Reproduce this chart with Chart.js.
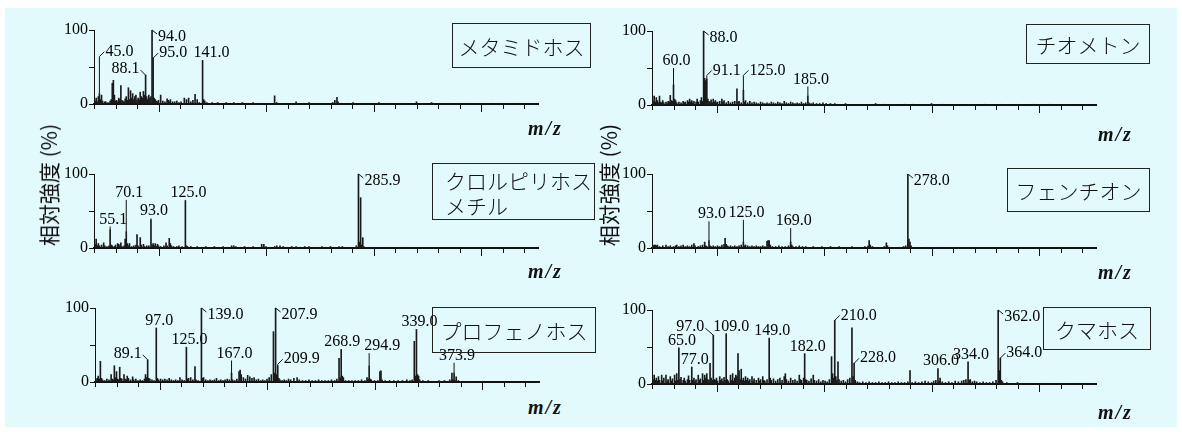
<!DOCTYPE html>
<html lang="ja">
<head>
<meta charset="UTF-8">
<title>マススペクトル</title>
<script src="https://cdn.jsdelivr.net/npm/chart.js"></script>
<style>
  body { margin: 0; background: #fff; }
  #wrap { position: relative; width: 1182px; height: 432px; overflow: hidden; }
  #bg { position: absolute; left: 5px; top: 8px; width: 1172px; height: 419px; background: #e2fafc; }
  canvas { position: absolute; }
  .box { position: absolute; box-sizing: border-box; border: 1.5px solid #222; font-family: "Noto Sans CJK JP"; font-size: 21px; font-weight: 300; color: #111; display: flex; align-items: center; justify-content: center; white-space: nowrap; }
  .box.multi { display: block; padding: 4px 0 0 12px; line-height: 25px; }
  .mz { position: absolute; font-family: "Liberation Serif"; font-style: italic; font-weight: bold; font-size: 20px; letter-spacing: 2px; color: #111; }
  .ytitle { position: absolute; transform: translate(-50%, -50%) rotate(-90deg); font-family: "Noto Sans CJK JP"; font-size: 21px; white-space: nowrap; color: #111; }
</style>
</head>
<body>
<div id="wrap">
  <div id="bg"></div>
</div>
<script>
// [m/z, relative intensity %]
const metamidophos = [[41,4],[42,8],[43,3],[44,10],[45,14],[46,6],[47,12],[48,4],[50,3],[51,3],[53,2],[55,4],[56,6],[57,28],[58,32],[59,12],[60,4],[61,5],[62,3],[63,8],[64,6],[65,25],[66,5],[67,4],[68,3],[69,7],[70,10],[71,5],[72,22],[73,6],[74,18],[75,8],[76,14],[77,6],[78,10],[79,12],[80,5],[81,8],[82,6],[83,16],[84,10],[85,8],[86,17],[87,12],[88,39],[89,10],[90,6],[91,12],[92,8],[93,10],[94,100],[95,62],[96,8],[97,6],[98,4],[99,3],[100,5],[102,12],[104,4],[106,3],[108,7],[109,5],[110,3],[111,6],[113,3],[115,3],[117,4],[119,2],[121,3],[124,8],[126,6],[128,8],[130,3],[132,5],[134,13],[136,6],[138,2],[141,59],[142,6],[143,4],[145,2],[150,2],[155,2],[160,1],[163,2],[170,2],[172,1],[178,2],[183,1],[188,2],[195,1],[200,1],[208,11],[210,2],[215,1],[220,1],[228,3],[235,1],[240,2],[248,1],[255,1],[262,2],[264,5],[266,9],[267,3],[270,1],[276,1],[281,2],[290,1],[297,1],[305,2],[312,1],[320,1],[328,1],[340,3],[345,1],[354,2],[362,1],[370,1],[380,1],[390,1],[400,1],[410,1],[420,1],[430,1],[440,1]];
const thiometon = [[41,5],[42,12],[43,4],[44,10],[45,6],[46,3],[47,12],[48,4],[49,3],[50,6],[51,3],[53,4],[54,2],[55,5],[56,4],[57,13],[58,6],[59,5],[60,27],[61,8],[62,6],[63,3],[65,4],[67,3],[69,5],[70,3],[71,4],[73,6],[74,4],[75,8],[76,4],[77,6],[78,3],[79,5],[81,4],[82,8],[83,4],[85,6],[86,10],[87,5],[88,100],[89,36],[90,33],[91,35],[92,8],[93,5],[94,4],[95,7],[96,3],[97,8],[98,4],[99,6],[100,3],[101,4],[103,5],[105,8],[106,4],[107,6],[109,3],[111,5],[113,3],[115,4],[117,5],[119,22],[120,4],[121,5],[123,3],[125,20],[126,4],[127,6],[129,3],[131,5],[133,3],[135,4],[137,3],[139,2],[141,4],[143,3],[145,2],[147,3],[149,2],[151,4],[153,3],[155,2],[157,4],[159,3],[161,2],[163,5],[165,3],[167,2],[169,4],[171,3],[173,2],[175,3],[177,2],[179,4],[181,2],[183,3],[185,12],[186,3],[188,2],[190,3],[193,2],[196,2],[199,3],[202,2],[206,2],[210,2],[215,1],[220,2],[226,1],[232,1],[240,1],[248,2],[256,1],[265,1],[275,1],[283,1],[292,1],[300,2],[310,1],[322,1],[335,1],[350,1],[365,1],[380,1],[395,1],[410,1],[425,1],[440,1]];
const chlorpyrifosMethyl = [[41,5],[42,12],[43,3],[44,6],[45,3],[47,4],[49,7],[50,3],[52,2],[54,3],[55,25],[56,4],[57,3],[59,2],[60,4],[62,6],[63,5],[64,3],[65,7],[66,2],[68,3],[69,12],[70,22],[71,6],[72,3],[73,6],[75,2],[77,3],[79,4],[80,18],[81,3],[83,14],[84,4],[86,5],[87,2],[89,3],[91,3],[93,38],[94,4],[95,6],[96,3],[97,6],[98,2],[99,5],[100,3],[102,2],[105,3],[107,7],[108,3],[110,13],[111,6],[112,3],[114,2],[117,2],[119,3],[122,2],[125,64],[126,3],[127,2],[130,2],[133,1],[136,2],[140,1],[144,2],[148,1],[152,2],[156,1],[160,2],[164,1],[168,3],[170,3],[172,2],[176,1],[180,2],[184,1],[188,2],[192,1],[196,5],[198,5],[200,2],[204,1],[208,2],[210,3],[213,3],[216,2],[220,1],[224,2],[228,2],[232,1],[236,2],[240,2],[244,1],[248,1],[252,2],[256,1],[260,2],[264,1],[268,2],[271,2],[274,1],[278,1],[282,1],[284,3],[286,100],[287,8],[288,68],[289,4],[290,14],[291,2],[294,1],[300,1],[306,1],[312,1],[320,1],[322,1],[330,1],[345,1],[360,1]];
const fenthion = [[41,3],[42,4],[43,4],[44,3],[45,4],[47,2],[50,3],[53,4],[55,2],[57,3],[60,2],[62,3],[63,4],[65,2],[67,3],[69,4],[71,2],[73,3],[75,2],[77,4],[79,6],[80,3],[83,2],[85,3],[87,4],[89,8],[90,3],[91,2],[93,10],[94,3],[95,2],[97,3],[99,2],[101,3],[103,2],[105,4],[107,5],[108,13],[109,5],[110,3],[111,2],[113,3],[115,2],[117,3],[119,2],[121,3],[123,4],[125,8],[126,3],[127,4],[129,3],[131,2],[133,3],[135,2],[137,3],[139,2],[141,2],[143,3],[145,2],[147,9],[148,10],[149,10],[150,4],[152,2],[155,2],[158,3],[161,2],[164,2],[167,3],[169,8],[170,4],[171,2],[174,2],[177,3],[180,2],[183,2],[186,1],[190,2],[194,1],[198,2],[202,1],[206,2],[210,1],[214,2],[218,1],[222,1],[226,2],[230,1],[234,1],[238,2],[241,3],[242,10],[243,4],[245,2],[248,1],[252,1],[256,2],[258,7],[259,3],[262,1],[266,1],[270,1],[274,2],[276,3],[278,100],[279,12],[280,8],[281,3],[282,1],[288,1],[296,1],[310,1],[325,1],[340,1],[360,1],[380,1],[400,1],[420,1]];
const profenofos = [[41,3],[42,5],[43,8],[44,4],[45,28],[46,5],[47,3],[49,2],[51,4],[53,3],[55,10],[56,4],[57,3],[58,22],[59,6],[60,14],[61,4],[62,3],[63,20],[64,5],[65,4],[67,10],[68,4],[69,3],[70,8],[71,5],[73,3],[75,7],[76,3],[78,4],[80,2],[82,3],[84,2],[86,4],[87,10],[88,6],[89,30],[90,5],[91,4],[93,3],[95,2],[97,73],[98,5],[99,3],[101,4],[103,3],[105,4],[107,3],[109,5],[111,3],[113,2],[115,3],[117,2],[119,6],[121,3],[123,2],[125,47],[126,4],[127,5],[129,6],[131,3],[133,21],[134,3],[136,2],[139,100],[140,5],[141,6],[143,3],[145,2],[147,3],[149,2],[151,3],[153,5],[155,2],[157,3],[159,2],[161,3],[163,4],[165,3],[167,12],[168,3],[170,2],[172,4],[174,14],[175,16],[176,10],[178,6],[180,4],[182,9],[184,7],[186,5],[188,6],[190,3],[192,4],[194,2],[196,3],[198,2],[200,4],[202,6],[204,10],[206,68],[207,12],[208,100],[209,10],[210,22],[211,5],[212,3],[214,2],[216,3],[218,2],[220,4],[222,3],[225,5],[228,6],[230,3],[233,2],[236,2],[239,3],[242,2],[245,2],[248,3],[251,2],[254,2],[257,2],[260,3],[263,2],[265,4],[267,32],[268,6],[269,44],[270,8],[271,6],[273,2],[276,2],[279,2],[282,2],[285,2],[288,3],[291,2],[293,6],[294,4],[295,22],[296,4],[297,3],[300,2],[303,2],[305,14],[306,15],[307,3],[310,2],[314,2],[318,2],[322,2],[326,2],[330,3],[333,2],[335,3],[337,55],[338,8],[339,71],[340,10],[341,8],[342,3],[345,2],[350,2],[355,1],[360,2],[365,2],[370,3],[372,12],[373,3],[374,12],[375,2],[376,7],[378,2],[382,1],[388,1],[395,1],[402,1],[410,1],[420,1],[430,1],[440,1],[448,1]];
const coumaphos = [[41,6],[42,12],[43,5],[44,8],[45,4],[46,10],[47,5],[49,12],[50,4],[51,8],[53,12],[54,4],[55,6],[57,10],[58,4],[59,7],[61,12],[62,4],[63,14],[64,5],[65,49],[66,6],[67,9],[69,5],[70,8],[71,4],[73,6],[74,11],[75,5],[77,23],[78,5],[79,8],[80,4],[81,6],[83,12],[84,5],[85,7],[87,14],[88,5],[89,12],[90,8],[91,14],[92,6],[93,5],[94,28],[95,8],[96,5],[97,66],[98,6],[99,5],[100,8],[101,4],[103,10],[104,5],[105,7],[106,3],[107,9],[108,5],[109,68],[110,6],[111,4],[113,12],[114,5],[115,14],[116,4],[117,8],[118,12],[119,10],[120,41],[121,18],[122,6],[123,20],[124,5],[125,8],[126,4],[127,10],[128,5],[129,8],[130,4],[131,6],[133,10],[134,4],[135,7],[137,5],[139,8],[140,4],[141,6],[143,10],[144,5],[145,4],[147,6],[149,62],[150,8],[151,5],[153,7],[155,4],[157,6],[159,8],[161,5],[163,10],[164,14],[165,6],[167,4],[169,8],[171,5],[173,6],[175,4],[177,12],[178,6],[179,5],[181,8],[182,41],[183,6],[184,5],[186,4],[188,7],[190,12],[191,5],[193,4],[195,6],[197,3],[199,5],[201,4],[203,3],[205,6],[207,37],[208,14],[209,8],[210,86],[211,10],[212,5],[213,30],[214,6],[216,4],[218,5],[220,3],[222,6],[224,8],[226,76],[227,10],[228,28],[229,5],[231,3],[233,2],[236,3],[239,2],[242,3],[245,2],[248,2],[251,3],[254,2],[257,2],[260,3],[263,2],[266,2],[269,3],[272,2],[275,2],[278,3],[280,18],[282,2],[285,3],[288,2],[291,3],[294,4],[297,3],[300,2],[302,4],[304,5],[306,21],[307,4],[308,8],[310,3],[313,2],[316,3],[319,2],[322,4],[325,3],[328,4],[330,5],[332,6],[334,30],[335,5],[336,6],[338,3],[340,4],[342,3],[345,2],[348,3],[351,2],[354,2],[357,3],[360,5],[362,100],[363,18],[364,35],[365,5],[366,3],[370,2],[375,1],[380,2],[386,1],[392,1],[398,1],[404,1],[412,1],[420,1],[428,1],[436,1],[444,1]];

// annotated peaks
const metamidophosLabels = ['45.0', '88.1', '94.0', '95.0', '141.0'];
const thiometonLabels = ['60.0', '88.0', '91.1', '125.0', '185.0'];
const chlorpyrifosMethylLabels = ['55.1', '70.1', '93.0', '125.0', '285.9'];
const fenthionLabels = ['93.0', '125.0', '169.0', '278.0'];
const profenofosLabels = ['89.1', '97.0', '125.0', '139.0', '167.0', '207.9', '209.9', '268.9', '294.9', '339.0', '373.9'];
const coumaphosLabels = ['65.0', '77.0', '97.0', '109.0', '149.0', '182.0', '210.0', '228.0', '306.0', '334.0', '362.0', '364.0'];

const mzTicks = { min: 40, max: 453, step: 20 };
const yTicks = [0, 50, 100];

// leader line layout: [height the leader reaches (%), direction, extra x shift px, extra y shift px]
const leads = {
  metamidophos: [[64, 'ur'], [0, 'ul'], [0, 'dr'], [0, 'ur'], [0, 'c', 6]],
  thiometon: [[50, 'c'], [0, 'dr'], [40, 'ur'], [40, 'ur'], [25, 'c']],
  chlorpyrifosMethyl: [[29, 'c'], [65, 'c'], [40, 'c'], [65, 'c'], [0, 'dr']],
  fenthion: [[36, 'c'], [38, 'c'], [27, 'c'], [0, 'dr']],
  profenofos: [[0, 'ul'], [0, 'c'], [0, 'c'], [0, 'dr'], [29, 'c'], [0, 'dr'], [24, 'ur'], [0, 'c', -2], [39, 'c', 10], [0, 'c'], [26, 'c']],
  coumaphos: [[0, 'c'], [0, 'c'], [0, 'ul', -3, -2], [0, 'c', 2], [0, 'c'], [0, 'c'], [0, 'ur'], [0, 'ur'], [0, 'c'], [0, 'c'], [0, 'dr'], [0, 'ur']]
};

const panels = [
  { peaks: metamidophos, labels: metamidophosLabels, lead: leads.metamidophos, left: 94, top: 30 },
  { peaks: thiometon, labels: thiometonLabels, lead: leads.thiometon, left: 652, top: 31 },
  { peaks: chlorpyrifosMethyl, labels: chlorpyrifosMethylLabels, lead: leads.chlorpyrifosMethyl, left: 94, top: 174 },
  { peaks: fenthion, labels: fenthionLabels, lead: leads.fenthion, left: 652, top: 174 },
  { peaks: profenofos, labels: profenofosLabels, lead: leads.profenofos, left: 95, top: 308 },
  { peaks: coumaphos, labels: coumaphosLabels, lead: leads.coumaphos, left: 652, top: 310 }
];

const boxes = [
  { text: 'メタミドホス', left: 452, top: 23, w: 139, h: 45 },
  { text: 'チオメトン', left: 1026, top: 24, w: 124, h: 40 },
  { text: 'クロルピリホス<br>メチル', left: 432, top: 163, w: 163, h: 57, multi: true },
  { text: 'フェンチオン', left: 1007, top: 168, w: 143, h: 44 },
  { text: 'プロフェノホス', left: 432, top: 307, w: 164, h: 46 },
  { text: 'クマホス', left: 1043, top: 307, w: 108, h: 43 }
];
const mzPos = [[528, 117], [1098, 123], [528, 260], [1098, 261], [528, 396], [1098, 401]];

const AXIS_W = 40, PAD_TOP = 26, X_H = 10, PAD_BOTTOM = 2, PLOT_W = 444, PLOT_H = 74, PAD_RIGHT = 6;
const wrap = document.getElementById('wrap');

// tick marks under the m/z axis, longer every 100
const xTickPlugin = {
  id: 'xTicks',
  afterDraw(chart) {
    const { ctx, chartArea, scales: { x } } = chart;
    ctx.save();
    ctx.strokeStyle = '#111';
    ctx.lineWidth = 1;
    x.ticks.forEach(t => {
      const px = Math.round(x.getPixelForValue(t.value)) + 0.5;
      const len = t.value % 100 === 0 ? 8 : 5;
      ctx.beginPath();
      ctx.moveTo(px, chartArea.bottom);
      ctx.lineTo(px, chartArea.bottom + len);
      ctx.stroke();
    });
    ctx.restore();
  }
};

// m/z labels with leader lines
const peakLabelPlugin = {
  id: 'peakLabels',
  afterDatasetsDraw(chart, args, opts) {
    const { ctx, scales: { x, y } } = chart;
    const pts = chart.data.datasets[0].data;
    ctx.save();
    ctx.strokeStyle = '#111';
    ctx.fillStyle = '#000';
    ctx.lineWidth = 1;
    ctx.font = '16px "Liberation Serif"';
    opts.labels.forEach((text, i) => {
      const mz = Math.round(parseFloat(text));
      const pt = pts.find(p => p.x === mz);
      const [reach, dir, sx = 0, sy = 0] = opts.lead[i];
      const px = x.getPixelForValue(mz);
      const py0 = y.getPixelForValue(pt.y);
      const py = y.getPixelForValue(Math.max(pt.y, reach));
      ctx.beginPath();
      ctx.moveTo(px, py0);
      ctx.lineTo(px, py);
      if (dir === 'c') {
        ctx.stroke();
        ctx.textAlign = 'center';
        ctx.textBaseline = 'alphabetic';
        ctx.fillText(text, px + 3 + sx, py - 3 + sy);
      } else if (dir === 'ur') {
        ctx.lineTo(px + 5, py - 5);
        ctx.stroke();
        ctx.textAlign = 'left';
        ctx.textBaseline = 'middle';
        ctx.fillText(text, px + 6 + sx, py - 5 + sy);
      } else if (dir === 'dr') {
        ctx.lineTo(px + 5, py + 4);
        ctx.stroke();
        ctx.textAlign = 'left';
        ctx.textBaseline = 'middle';
        ctx.fillText(text, px + 6 + sx, py + 7 + sy);
      } else if (dir === 'ul') {
        ctx.lineTo(px - 5 + sx, py - 5 + sy);
        ctx.stroke();
        ctx.textAlign = 'right';
        ctx.textBaseline = 'middle';
        ctx.fillText(text, px - 6 + sx, py - 6 + sy);
      }
    });
    ctx.restore();
  }
};

panels.forEach(p => {
  const cv = document.createElement('canvas');
  cv.width = AXIS_W + PLOT_W + PAD_RIGHT;
  cv.height = PAD_TOP + PLOT_H + X_H + PAD_BOTTOM;
  cv.style.left = (p.left - AXIS_W) + 'px';
  cv.style.top = (p.top - PAD_TOP) + 'px';
  wrap.appendChild(cv);

  new Chart(cv, {
    type: 'bar',
    data: {
      datasets: [{
        data: p.peaks.map(([mz, v]) => ({ x: mz, y: v })),
        backgroundColor: '#1a1a1a',
        borderWidth: 0,
        barThickness: 1
      }]
    },
    options: {
      responsive: false,
      animation: false,
      layout: { padding: { top: PAD_TOP, right: PAD_RIGHT, bottom: PAD_BOTTOM, left: 0 } },
      plugins: {
        legend: { display: false },
        tooltip: { enabled: false },
        peakLabels: { labels: p.labels, lead: p.lead }
      },
      scales: {
        x: {
          type: 'linear',
          min: mzTicks.min,
          max: mzTicks.max,
          offset: false,
          grid: { drawOnChartArea: false, drawTicks: false, offset: false, color: 'rgba(0,0,0,0)' },
          border: { display: true, color: '#111', width: 2 },
          ticks: { display: false, stepSize: mzTicks.step, includeBounds: false },
          afterFit(s) { s.height = X_H; }
        },
        y: {
          min: yTicks[0],
          max: yTicks[2],
          grid: { drawOnChartArea: false, drawTicks: true, tickLength: 5, color: '#111' },
          border: { display: true, color: '#111', width: 1 },
          ticks: {
            stepSize: yTicks[1],
            padding: 1,
            color: '#000',
            font: { family: 'Liberation Serif', size: 16 },
            callback: v => (v === yTicks[1] ? '' : v)
          },
          afterFit(s) { s.width = AXIS_W; }
        }
      }
    },
    plugins: [xTickPlugin, peakLabelPlugin]
  });
});

boxes.forEach(b => {
  const d = document.createElement('div');
  d.className = 'box' + (b.multi ? ' multi' : '');
  d.innerHTML = b.text;
  Object.assign(d.style, { left: b.left + 'px', top: b.top + 'px', width: b.w + 'px', height: b.h + 'px' });
  wrap.appendChild(d);
});

mzPos.forEach(([l, t]) => {
  const d = document.createElement('div');
  d.className = 'mz';
  d.textContent = 'm/z';
  Object.assign(d.style, { left: l + 'px', top: t + 'px' });
  wrap.appendChild(d);
});

[[48, 185], [608, 185]].forEach(([l, t]) => {
  const d = document.createElement('div');
  d.className = 'ytitle';
  d.textContent = '相対強度 (%)';
  Object.assign(d.style, { left: l + 'px', top: t + 'px' });
  wrap.appendChild(d);
});
</script>
</body>
</html>
